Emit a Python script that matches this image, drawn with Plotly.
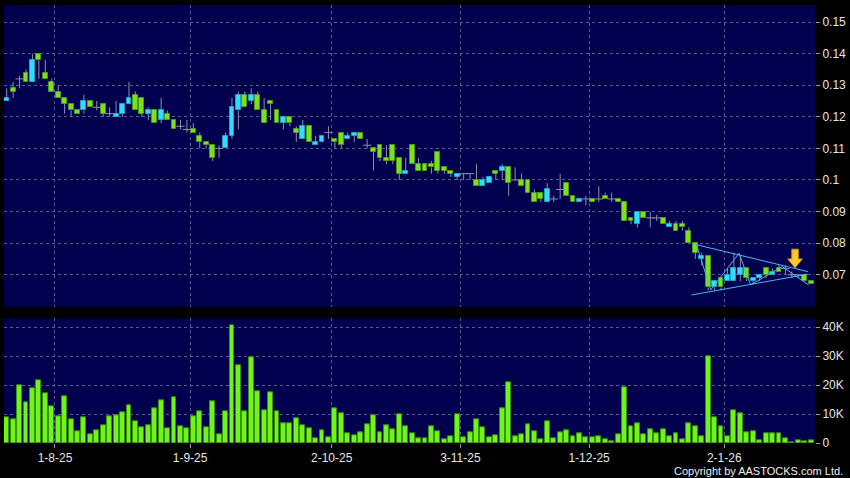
import pandas as pd
import plotly.graph_objects as go

# ---------------- data ----------------
hk_holidays = ["2025-10-01", "2025-10-07", "2025-10-29", "2025-12-25", "2025-12-26", "2026-01-01"]
dates = pd.bdate_range("2025-07-22", "2026-01-21", freq="C", holidays=hk_holidays)

open_ = [0.125, 0.129, 0.132, 0.134, 0.131, 0.140, 0.134, 0.131, 0.128, 0.126,
         0.124, 0.122, 0.122, 0.125, 0.123, 0.124, 0.121, 0.120, 0.121, 0.124,
         0.127, 0.126, 0.121, 0.122, 0.119, 0.121, 0.119, 0.117, 0.116, 0.116,
         0.114, 0.112, 0.111, 0.110, 0.110, 0.114, 0.122, 0.127, 0.125, 0.127,
         0.122, 0.125, 0.122, 0.118, 0.120, 0.116, 0.113, 0.117, 0.111, 0.112,
         0.115, 0.113, 0.115, 0.113, 0.114, 0.115, 0.111, 0.110, 0.111, 0.107,
         0.111, 0.107, 0.102, 0.111, 0.105, 0.105, 0.105, 0.109, 0.104, 0.103,
         0.101, 0.102, 0.102, 0.100, 0.098, 0.099, 0.103, 0.103, 0.104, 0.100,
         0.100, 0.100, 0.096, 0.096, 0.093, 0.094, 0.097, 0.099, 0.095, 0.093,
         0.094, 0.094, 0.094, 0.095, 0.094, 0.094, 0.093, 0.088, 0.086, 0.090,
         0.088, 0.088, 0.088, 0.085, 0.086, 0.086, 0.084, 0.080, 0.075, 0.076,
         0.066, 0.069, 0.068, 0.068, 0.070, 0.072, 0.068, 0.069, 0.072, 0.070,
         0.072, 0.072, 0.070, 0.070, 0.070, 0.068]
high = [0.129, 0.131, 0.133, 0.135, 0.140, 0.140, 0.138, 0.132, 0.130, 0.126,
        0.124, 0.122, 0.127, 0.125, 0.125, 0.124, 0.123, 0.125, 0.124, 0.131,
        0.128, 0.126, 0.123, 0.122, 0.126, 0.122, 0.119, 0.119, 0.119, 0.118,
        0.115, 0.112, 0.111, 0.111, 0.115, 0.126, 0.128, 0.128, 0.129, 0.128,
        0.126, 0.125, 0.122, 0.120, 0.120, 0.117, 0.119, 0.117, 0.114, 0.114,
        0.117, 0.113, 0.115, 0.115, 0.115, 0.115, 0.113, 0.110, 0.111, 0.111,
        0.111, 0.107, 0.107, 0.111, 0.107, 0.105, 0.106, 0.109, 0.104, 0.103,
        0.102, 0.102, 0.102, 0.105, 0.101, 0.101, 0.103, 0.105, 0.104, 0.104,
        0.102, 0.100, 0.097, 0.096, 0.099, 0.095, 0.102, 0.099, 0.095, 0.094,
        0.095, 0.094, 0.098, 0.096, 0.096, 0.094, 0.093, 0.088, 0.090, 0.090,
        0.090, 0.089, 0.088, 0.087, 0.087, 0.087, 0.085, 0.080, 0.077, 0.076,
        0.068, 0.069, 0.072, 0.077, 0.076, 0.072, 0.069, 0.070, 0.072, 0.072,
        0.073, 0.073, 0.071, 0.070, 0.070, 0.068]
low = [0.125, 0.126, 0.129, 0.131, 0.131, 0.132, 0.132, 0.128, 0.126, 0.121,
       0.120, 0.121, 0.121, 0.123, 0.122, 0.120, 0.120, 0.120, 0.120, 0.124,
       0.122, 0.120, 0.119, 0.118, 0.118, 0.119, 0.116, 0.116, 0.115, 0.115,
       0.110, 0.110, 0.106, 0.107, 0.110, 0.113, 0.116, 0.123, 0.124, 0.122,
       0.118, 0.119, 0.118, 0.116, 0.117, 0.112, 0.113, 0.112, 0.111, 0.112,
       0.113, 0.110, 0.110, 0.113, 0.112, 0.113, 0.110, 0.103, 0.106, 0.105,
       0.105, 0.100, 0.102, 0.105, 0.103, 0.103, 0.102, 0.102, 0.102, 0.101,
       0.100, 0.100, 0.100, 0.098, 0.098, 0.099, 0.100, 0.100, 0.095, 0.100,
       0.098, 0.096, 0.093, 0.093, 0.093, 0.093, 0.094, 0.095, 0.093, 0.093,
       0.092, 0.093, 0.093, 0.094, 0.093, 0.093, 0.087, 0.086, 0.085, 0.088,
       0.085, 0.087, 0.086, 0.085, 0.084, 0.084, 0.080, 0.075, 0.073, 0.065,
       0.065, 0.065, 0.068, 0.068, 0.068, 0.068, 0.067, 0.068, 0.069, 0.070,
       0.071, 0.070, 0.069, 0.069, 0.068, 0.067]
close = [0.126, 0.128, 0.132, 0.131, 0.138, 0.138, 0.132, 0.128, 0.126, 0.124,
         0.122, 0.121, 0.125, 0.123, 0.123, 0.121, 0.121, 0.121, 0.124, 0.126,
         0.122, 0.121, 0.122, 0.118, 0.122, 0.119, 0.116, 0.117, 0.116, 0.115,
         0.112, 0.111, 0.107, 0.110, 0.114, 0.123, 0.127, 0.123, 0.127, 0.122,
         0.118, 0.124, 0.118, 0.120, 0.118, 0.115, 0.117, 0.112, 0.112, 0.114,
         0.115, 0.112, 0.111, 0.114, 0.115, 0.113, 0.111, 0.109, 0.107, 0.106,
         0.106, 0.102, 0.103, 0.105, 0.103, 0.103, 0.104, 0.103, 0.103, 0.102,
         0.102, 0.102, 0.102, 0.098, 0.100, 0.101, 0.102, 0.104, 0.099, 0.100,
         0.098, 0.096, 0.093, 0.094, 0.097, 0.094, 0.097, 0.095, 0.093, 0.094,
         0.094, 0.093, 0.094, 0.094, 0.094, 0.093, 0.087, 0.087, 0.090, 0.088,
         0.088, 0.088, 0.086, 0.086, 0.084, 0.085, 0.080, 0.077, 0.076, 0.066,
         0.068, 0.066, 0.070, 0.072, 0.072, 0.069, 0.069, 0.070, 0.070, 0.071,
         0.071, 0.072, 0.070, 0.070, 0.068, 0.067]
volume_k = [8.9, 8.2, 19.9, 14.1, 19.0, 21.5, 17.1, 12.5, 9.1, 16.1,
            8.2, 4.1, 8.7, 3.1, 4.3, 6.1, 9.2, 9.4, 10.5, 13.0,
            7.6, 5.4, 6.2, 11.8, 14.8, 5.2, 15.7, 5.9, 5.1, 9.1,
            10.9, 5.4, 14.5, 2.9, 10.9, 40.6, 26.8, 11.1, 29.5, 17.8,
            11.4, 17.6, 10.8, 6.7, 6.7, 8.6, 6.1, 5.1, 1.7, 4.3,
            1.8, 11.8, 10.3, 3.4, 2.5, 3.8, 6.6, 9.7, 3.8, 6.2,
            4.7, 9.9, 5.6, 3.4, 1.7, 1.7, 5.6, 4.0, 1.4, 2.2,
            9.8, 2.1, 3.8, 8.2, 5.5, 2.1, 2.5, 11.8, 21.1, 2.4,
            2.9, 6.4, 4.0, 1.3, 7.5, 1.5, 3.8, 4.5, 2.2, 3.2,
            1.8, 1.8, 2.4, 1.3, 0.7, 3.0, 19.2, 5.7, 6.8, 3.0,
            4.7, 3.3, 4.7, 2.3, 3.3, 1.4, 6.8, 5.9, 2.4, 29.9,
            8.9, 5.6, 2.4, 11.3, 10.1, 3.8, 4.0, 0.8, 3.2, 3.2,
            3.4, 1.5, 0.3, 0.9, 0.6, 0.8]

tick_dates = ["2025-08-01", "2025-09-01", "2025-10-02", "2025-11-03", "2025-12-01", "2026-01-02"]
price_ticks = [0.07, 0.08, 0.09, 0.10, 0.11, 0.12, 0.13, 0.14, 0.15]
price_tick_text = ["0.07", "0.08", "0.09", "0.1", "0.11", "0.12", "0.13", "0.14", "0.15"]
vol_ticks = [0, 10000, 20000, 30000, 40000]
vol_tick_text = ["0", "10K", "20K", "30K", "40K"]

# drawn trend lines (triangle) : (bar position, price)
tri_upper = [(106.8, 0.0797), (124.5, 0.0710)]
tri_lower = [(106.4, 0.0636), (124.5, 0.0702)]
tri_zigzag = [(107.2, 0.0794), (109.4, 0.0652), (113.8, 0.0768), (115.6, 0.0668),
              (120.5, 0.0726), (124.6, 0.0668)]
arrow_pos = 122.5
arrow_top, arrow_mid, arrow_tip = 0.0781, 0.0750, 0.0722

# ---------------- styling ----------------
FONT = "Liberation Sans Narrow, Liberation Sans, Arial, sans-serif"
UP_FILL, UP_LINE = "#33dcff", "#1e9fc4"
DN_FILL, DN_LINE = "#7ce020", "#4b9a16"
WICK = "#8f8fa3"
GRID = "#5c5c8c"
NAVY = "#00004e"

n = len(dates)
xs = list(range(n))
assert len(open_) == n == len(high) == len(low) == len(close) == len(volume_k)

# wicks (above and below body)
wx, wy = [], []
for i in xs:
    top = max(open_[i], close[i])
    bot = min(open_[i], close[i])
    if high[i] > top:
        wx += [i, i, None]
        wy += [top, high[i], None]
    if low[i] < bot:
        wx += [i, i, None]
        wy += [low[i], bot, None]

bx, bbase, bh, bfill, bline = [], [], [], [], []
dx, dy = [], []
for i in xs:
    if close[i] == open_[i]:
        dx.append(i)
        dy.append(close[i])
        continue
    bx.append(i)
    bbase.append(min(open_[i], close[i]))
    bh.append(abs(close[i] - open_[i]))
    up = close[i] > open_[i]
    bfill.append(UP_FILL if up else DN_FILL)
    bline.append(UP_LINE if up else DN_LINE)

fig = go.Figure()
fig.add_trace(go.Scatter(x=wx, y=wy, mode="lines", line=dict(color=WICK, width=1),
                         hoverinfo="skip", xaxis="x", yaxis="y"))
fig.add_trace(go.Bar(x=bx, y=bh, base=bbase, width=0.76,
                     marker=dict(color=bfill, line=dict(color=bline, width=1)),
                     xaxis="x", yaxis="y"))
fig.add_trace(go.Scatter(x=dx, y=dy, mode="markers",
                         marker=dict(symbol="line-ew", size=6, line=dict(color=WICK, width=1)),
                         xaxis="x", yaxis="y"))

# triangle lines
for seg in (tri_upper, tri_lower, tri_zigzag):
    fig.add_trace(go.Scatter(x=[p[0] for p in seg], y=[p[1] for p in seg], mode="lines",
                             line=dict(color="#4fb4f0", width=1), hoverinfo="skip",
                             xaxis="x", yaxis="y"))

# volume
fig.add_trace(go.Bar(x=xs, y=[v * 1000 for v in volume_k], width=0.76,
                     marker=dict(color="#6ef51a", line=dict(color="#3c8f0c", width=1)),
                     xaxis="x2", yaxis="y2"))

# arrow marker (gold)
sw, hw = 0.5, 1.12
path = (f"M {arrow_pos - sw},{arrow_top} L {arrow_pos + sw},{arrow_top} "
        f"L {arrow_pos + sw},{arrow_mid} L {arrow_pos + hw},{arrow_mid} "
        f"L {arrow_pos},{arrow_tip} L {arrow_pos - hw},{arrow_mid} "
        f"L {arrow_pos - sw},{arrow_mid} Z")
fig.add_shape(type="path", path=path, xref="x", yref="y",
              fillcolor="#ffc82e", line=dict(color="#d99a10", width=1))

idx_of = {d.strftime("%Y-%m-%d"): i for i, d in enumerate(dates)}
tickvals = [idx_of[t] - 0.5 for t in tick_dates]
ticktext = [f"{pd.Timestamp(t).day}-{pd.Timestamp(t).month}-{pd.Timestamp(t).strftime('%y')}" for t in tick_dates]

xrange = [-0.42, 125.6]
common_x = dict(range=xrange, tickvals=tickvals, showgrid=True, gridcolor=GRID,
                griddash="3px,3px", gridwidth=1, zeroline=False, showline=False, fixedrange=True)
common_y = dict(side="right", showgrid=True, gridcolor=GRID, griddash="3px,3px", gridwidth=1,
                zeroline=False, showline=False, ticks="outside", ticklen=4, tickcolor="#9a9a9a",
                tickfont=dict(family=FONT, size=12, color="#e6e6e6"), fixedrange=True)

fig.update_layout(
    width=850, height=478,
    margin=dict(l=4, r=32, t=5, b=35),
    paper_bgcolor="#000000", plot_bgcolor=NAVY,
    showlegend=False, barmode="overlay", bargap=0,
    font=dict(family=FONT, color="#e6e6e6"),
    xaxis=dict(**common_x, anchor="y", showticklabels=False, ticks=""),
    xaxis2=dict(**common_x, anchor="y2", matches="x", ticktext=ticktext, ticks="outside",
                ticklen=4, tickcolor="#9a9a9a",
                tickfont=dict(family=FONT, size=12, color="#e6e6e6")),
    yaxis=dict(**common_y, domain=[0.3112, 1.0], range=[0.0599, 0.15538],
               tickvals=price_ticks, ticktext=price_tick_text),
    yaxis2=dict(**common_y, domain=[0.0, 0.2847], range=[0, 43000],
                tickvals=vol_ticks, ticktext=vol_tick_text),
    annotations=[dict(text="Copyright by AASTOCKS.com Ltd.", xref="paper", yref="paper",
                      x=1.037, y=-0.064, xanchor="right", yanchor="middle", showarrow=False,
                      font=dict(family=FONT, size=11, color="#f0f0f0"))],
)

fig.write_html("out.html", config={"displayModeBar": False},
               post_script="document.body.style.margin='0px';")
